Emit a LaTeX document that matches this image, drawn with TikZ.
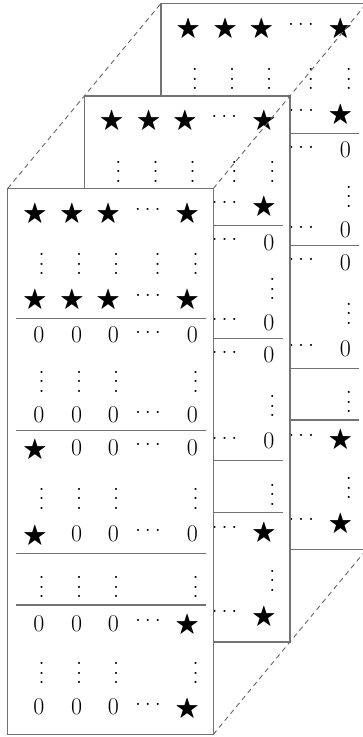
\documentclass[tikz,border=0pt]{standalone}
\usepackage{amssymb}
\tikzset{
  panel/.style={draw=black!55, line width=1.2pt, fill=white},
  rowrule/.style={draw=black!55, line width=1.1pt},
  cell/.style={inner sep=0pt, outer sep=0pt, anchor=center, font=\fontsize{24}{24}\selectfont},
  guide/.style={draw=black!60, line width=0.9pt, dash pattern=on 5pt off 4pt},
}
\newcommand{\symZ}{0}
\newcommand{\symS}{{\fontsize{25}{25}\selectfont$\bigstar$}}
\newcommand{\symC}{{\fontsize{26}{26}\selectfont\hbox{.\kern3.4pt.\kern3.4pt.}}}
\newcommand{\symV}{{\fontsize{26}{26}\selectfont\vbox{\baselineskip9.5pt\lineskiplimit-20pt\hbox{.}\hbox{.}\hbox{.}}}}
% rows 1-2: fully visible in every panel
\newcommand{\listTop}{
    35/214/S, 72/214/S, 108.3/214/S, 147.7/209/C, 187.3/214/S,
    41.7/264/V, 79/264/V, 116/264/V, 157.7/264/V, 195.7/264/V}
% left part of rows 3-13: visible only in the front panel
\newcommand{\listLeft}{
    35/300/S, 72/300/S, 108.3/300/S,
    39/335/Z, 76.7/335/Z, 113.3/335/Z,
    41.7/381.5/V, 79/381.5/V, 116/381.5/V,
    39/415/Z, 76.7/415/Z, 113.3/415/Z,
    35/450/S, 76.7/447.5/Z, 113.3/447.5/Z,
    41.7/498.5/V, 79/498.5/V, 116/498.5/V,
    35/536/S, 76.7/533.5/Z, 113.3/533.5/Z,
    41.7/587/V, 79/587/V, 116/587/V,
    39/623.3/Z, 76.7/623.3/Z, 113.3/623.3/Z,
    41.7/673.3/V, 79/673.3/V, 116/673.3/V,
    39/707/Z, 76.7/707/Z, 113.3/707/Z}
% right part of rows 3-13: visible in every panel
\newcommand{\listRight}{
    148/295/C, 187.3/300/S,
    148/332/C, 192.3/335/Z,
    195.7/381.5/V,
    148/412/C, 192.3/415/Z,
    148/444.5/C, 192.3/447.5/Z,
    195.7/498.5/V,
    148/530.5/C, 192.3/533.5/Z,
    195.7/587/V,
    148/620.3/C, 187.3/625.5/S,
    195.7/673.3/V,
    148/704/C, 187.3/709.5/S}
\newcommand{\drawpanel}[3]{%
\begin{scope}[shift={#2}]
  \path[panel] (7.7,188.5) rectangle (213.3,734.5);
  \coordinate (#1-tl) at (7.7,188.5);
  \coordinate (#1-tr) at (213.3,188.5);
  \coordinate (#1-br) at (213.3,734.5);
  \foreach \yy in {318.3,430.7,553.3,605} \draw[rowrule] (15.7,\yy) -- (206,\yy);
  \foreach \xx/\yy/\ss [count=\k] in \listTop
    \node[cell] (#1-t\k) at (\xx,\yy) {\csname sym\ss\endcsname};
  \foreach \xx/\yy/\ss [count=\k] in \listRight
    \node[cell] (#1-r\k) at (\xx,\yy) {\csname sym\ss\endcsname};
  #3
\end{scope}}
\newcommand{\leftcells}[1]{%
  \foreach \xx/\yy/\ss [count=\k] in \listLeft
    \node[cell] (#1-l\k) at (\xx,\yy) {\csname sym\ss\endcsname};}
\begin{document}
\begin{tikzpicture}[x=1pt,y=-1pt]
  \clip (0,0) rectangle (363,737);
  \drawpanel{back}{(153.2,-185)}{}
  \drawpanel{mid}{(76.6,-92.5)}{}
  \drawpanel{front}{(0,0)}{\leftcells{front}}
  \draw[guide] (front-tl) -- (back-tl);
  \draw[guide] (front-tr) -- (back-tr);
  \draw[guide] (front-br) -- (back-br);
\end{tikzpicture}
\end{document}
